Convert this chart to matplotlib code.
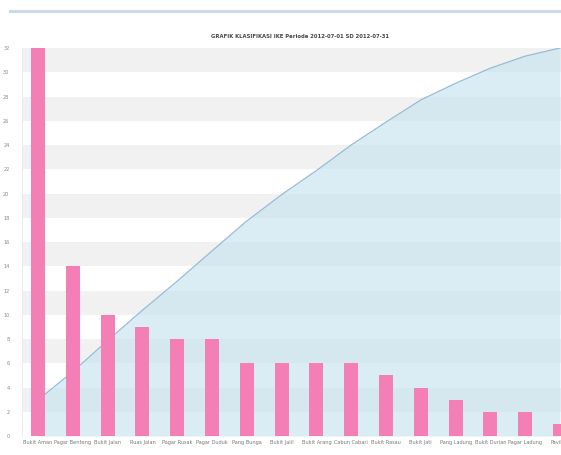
import matplotlib
matplotlib.use("Agg")
import matplotlib.pyplot as plt
from matplotlib.lines import Line2D

title = "GRAFIK KLASIFIKASI IKE Periode 2012-07-01 SD 2012-07-31"
categories = ["Bukit Aman", "Pagar Benteng", "Bukit Jalan", "Ruas Jalan", "Pagar Rusak",
              "Pagar Duduk", "Pang Bunga", "Bukit Jalil", "Bukit Arang", "Cabun Cabari",
              "Bukit Rasau", "Bukit Jati", "Pang Ladung", "Bukit Durian", "Pagar Ladung",
              "Pavilion"]
counts = [32, 14, 10, 9, 8, 8, 6, 6, 6, 6, 5, 4, 3, 2, 2, 1]
cumulative_pct = [9.3, 16.6, 24.6, 32.4, 39.9, 47.7, 55.4, 62.2, 68.4, 75.0,
                  80.9, 86.6, 90.9, 94.8, 97.9, 100.0]
y_ticks = list(range(0, 33, 2))

fig = plt.figure(figsize=(5.61, 4.55), dpi=100)
fig.patch.set_facecolor("white")

# top UI strip
fig.add_artist(Line2D([10/561, 1.0], [1 - 11/455, 1 - 11/455], color="#cdd9e5", lw=2.2,
                      transform=fig.transFigure))

ax = fig.add_axes([22/561, 1 - 436/455, 1 - 22/561, (436 - 48)/455])
ax.set_xlim(-0.46, 15.03)
ax.set_ylim(0, 32)

x = list(range(len(categories)))
ax2 = ax.twinx()
ax2.set_ylim(0, 100)
ax2.set_xlim(ax.get_xlim())
ax2.set_facecolor("white")
# alternating bands (in percent units of the twin axis)
for lo in y_ticks[:-1]:
    if (lo // 2) % 2 == 1:
        ax2.axhspan(lo / 32 * 100, (lo + 2) / 32 * 100, color="#f1f1f1", lw=0, zorder=0)
ax2.fill_between(x, cumulative_pct, 0, color="#c4e1ee", alpha=0.62, lw=0, zorder=1)
ax2.plot(x, cumulative_pct, color="#93bcd4", lw=0.9, zorder=2)
ax2.set_yticks([])
for s in ax2.spines.values():
    s.set_visible(False)

ax.set_zorder(ax2.get_zorder() + 1)
ax.patch.set_visible(False)

ax.bar(x, counts, width=0.4, color="#f47fb6", zorder=3)

ax.set_yticks(y_ticks)
ax.set_yticklabels([str(t) for t in y_ticks], fontsize=3.6, color="#888888")
ax.set_xticks(x)
ax.set_xticklabels(categories, fontsize=3.6, color="#777777")
ax.tick_params(axis="both", length=0, pad=3)
ax.tick_params(axis="y", pad=9)
for s in ["top", "right", "bottom"]:
    ax.spines[s].set_visible(False)
ax.spines["left"].set_color("#e3eaf0")
ax.spines["left"].set_linewidth(0.6)

fig.text(300/561, 1 - 37/455, title, fontsize=3.8, fontweight="bold", color="#444444",
         ha="center", va="center")

fig.savefig("out.png", dpi=100)
